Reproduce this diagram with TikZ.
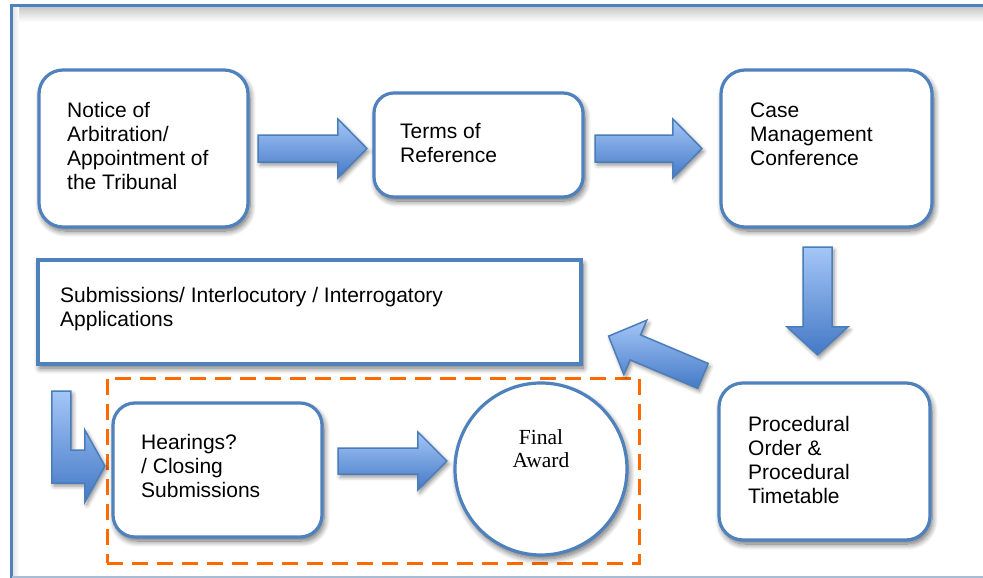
\documentclass[tikz,border=0pt]{standalone}
\usepackage{fontspec}
\setmainfont{Liberation Sans}
\newfontfamily\awardfont{Liberation Serif}
\usetikzlibrary{calc,shadows.blur}

\definecolor{boxblue}{HTML}{4F81BD}
\definecolor{arrowline}{HTML}{4A7EBB}
\definecolor{arrowlight}{HTML}{A4C6F7}
\definecolor{arrowdark}{HTML}{4479C6}
\definecolor{stageorange}{HTML}{FF6A00}
\definecolor{framebottom}{HTML}{A9BCD6}

\tikzset{
  softshadow/.style={blur shadow={shadow xshift=2pt, shadow yshift=-4pt,
      shadow blur radius=6pt, shadow blur steps=10, shadow opacity=60}},
  stepbox/.style={draw=boxblue, line width=3.2pt, fill=white,
      rounded corners=#1, softshadow},
  stepbox/.default=24pt,
  plainbox/.style={draw=boxblue, line width=3.2pt, fill=white, softshadow},
  awardcircle/.style={circle, draw=boxblue, line width=3.2pt, fill=white,
      minimum size=172pt, softshadow},
  steptext/.style={anchor=base west, align=left, inner sep=0pt,
      font=\fontsize{21}{24}\selectfont},
  awardtext/.style={anchor=base, align=center, inner sep=0pt,
      font=\awardfont\fontsize{21.5}{23}\selectfont},
  stagebox/.style={draw=stageorange, line width=3pt,
      dash pattern=on 16pt off 9pt},
  arrowshape/.style={draw=arrowline, line width=1.5pt, line join=miter,
      top color=arrowlight, bottom color=arrowdark,
      blur shadow={shadow xshift=2pt, shadow yshift=-3pt,
      shadow blur radius=4pt, shadow opacity=45}},
}

% block arrow: name, from, to, half shaft width, half head width, head length
\newcommand\blockarrow[6]{%
  \coordinate (#1-h) at ($(#3)!#6!(#2)$);
  \draw[arrowshape] ($(#2)!#4!90:(#3)$) -- ($(#1-h)!#4!90:(#3)$)
    -- ($(#1-h)!#5!90:(#3)$) -- (#3) -- ($(#1-h)!#5!-90:(#3)$)
    -- ($(#1-h)!#4!-90:(#3)$) -- ($(#2)!#4!-90:(#3)$) -- cycle;}

\begin{document}
\begin{tikzpicture}[x=1pt, y=-1pt]
\useasboundingbox (0,0) rectangle (983,578);

% outer frame with its inner shading
\shade[top color=black!22, bottom color=white] (12,6.5) rectangle (983,22);
\shade[left color=black!12, right color=white] (12,6.5) rectangle (19,578);
\draw[boxblue, line width=2.5pt] (11.5,580) -- (11.5,5.5) -- (990,5.5);
\draw[framebottom, line width=1.2pt] (11.5,577) -- (983,577);

% stage of the hearing and the award
\node[stagebox, minimum width=532pt, minimum height=185pt] (stage) at (373,470.5) {};

% process steps
\node[stepbox, minimum width=209pt, minimum height=157pt] (n1) at (143.5,148.5) {};
\node[stepbox=20pt, minimum width=209pt, minimum height=104pt] (n2) at (478.5,145) {};
\node[stepbox, minimum width=211pt, minimum height=157pt] (n3) at (826.5,148.5) {};
\node[plainbox, minimum width=543pt, minimum height=104pt] (n4) at (309.5,312) {};
\node[stepbox, minimum width=211pt, minimum height=157pt] (n5) at (824.5,461.5) {};
\node[stepbox=22pt, minimum width=209pt, minimum height=134pt] (n6) at (217.5,470) {};
\node[awardcircle] (award) at (541,469) {};

% step labels (anchored at the baseline of their last line)
\node[steptext] (t1) at (67,189) {Notice of\\Arbitration/\\Appointment of\\the Tribunal};
\node[steptext] (t2) at (400,162) {Terms of\\Reference};
\node[steptext] (t3) at (750,165) {Case\\Management\\Conference};
\node[steptext] (t4) at (60,326) {Submissions/ Interlocutory / Interrogatory\\Applications};
\node[steptext] (t5) at (748,503) {Procedural\\Order \&\\Procedural\\Timetable};
\node[steptext] (t6) at (141,497) {Hearings?\\/ Closing\\Submissions};
\node[awardtext] (t7) at (541,467) {Final\\Award};

% arrow end points
\coordinate (a1s) at ($(n1.east)+(8.5,0)$);
\coordinate (a1e) at ($(a1s -| n2.west)+(-5.5,0)$);
\coordinate (a2s) at ($(a1s -| n2.east)+(10.5,0)$);
\coordinate (a2e) at ($(a1s -| n3.west)+(-17.5,0)$);
\coordinate (a3s) at ($(n3.south)+(-9,18.5)$);
\coordinate (a3e) at ($(a3s |- n5.north)+(0,-26.5)$);
\coordinate (a4s) at ($(n5.north west)+(-14.5,-5.5)$);
\coordinate (a4e) at ($(n4.south east)+(26,-29.5)$);
\coordinate (a6s) at ($(n6.east)+(14.5,-9)$);
\coordinate (a6e) at ($(a6s -| award.west)+(-6.5,0)$);
\coordinate (lt) at ($(n4.south west)+(15.5,25.5)$);
\coordinate (lp) at ($(n6.west)+(-6.5,-4)$);

% block arrows
\blockarrow{a1}{a1s}{a1e}{13.5pt}{29.5pt}{29pt}
\blockarrow{a2}{a2s}{a2e}{13.5pt}{29.5pt}{29pt}
\blockarrow{a3}{a3s}{a3e}{14.5pt}{30.5pt}{28pt}
\blockarrow{a4}{a4s}{a4e}{13.5pt}{29.5pt}{29pt}
\blockarrow{a6}{a6s}{a6e}{13pt}{29pt}{29pt}
\draw[arrowshape] (lt) -- ++(19,0) -- ++(0,59) -- ++(14,0) -- ++(0,-20)
  -- (lp) -- ++(-20,36) -- ++(0,-19) -- ++(-33,0) -- cycle;
\end{tikzpicture}
\end{document}
